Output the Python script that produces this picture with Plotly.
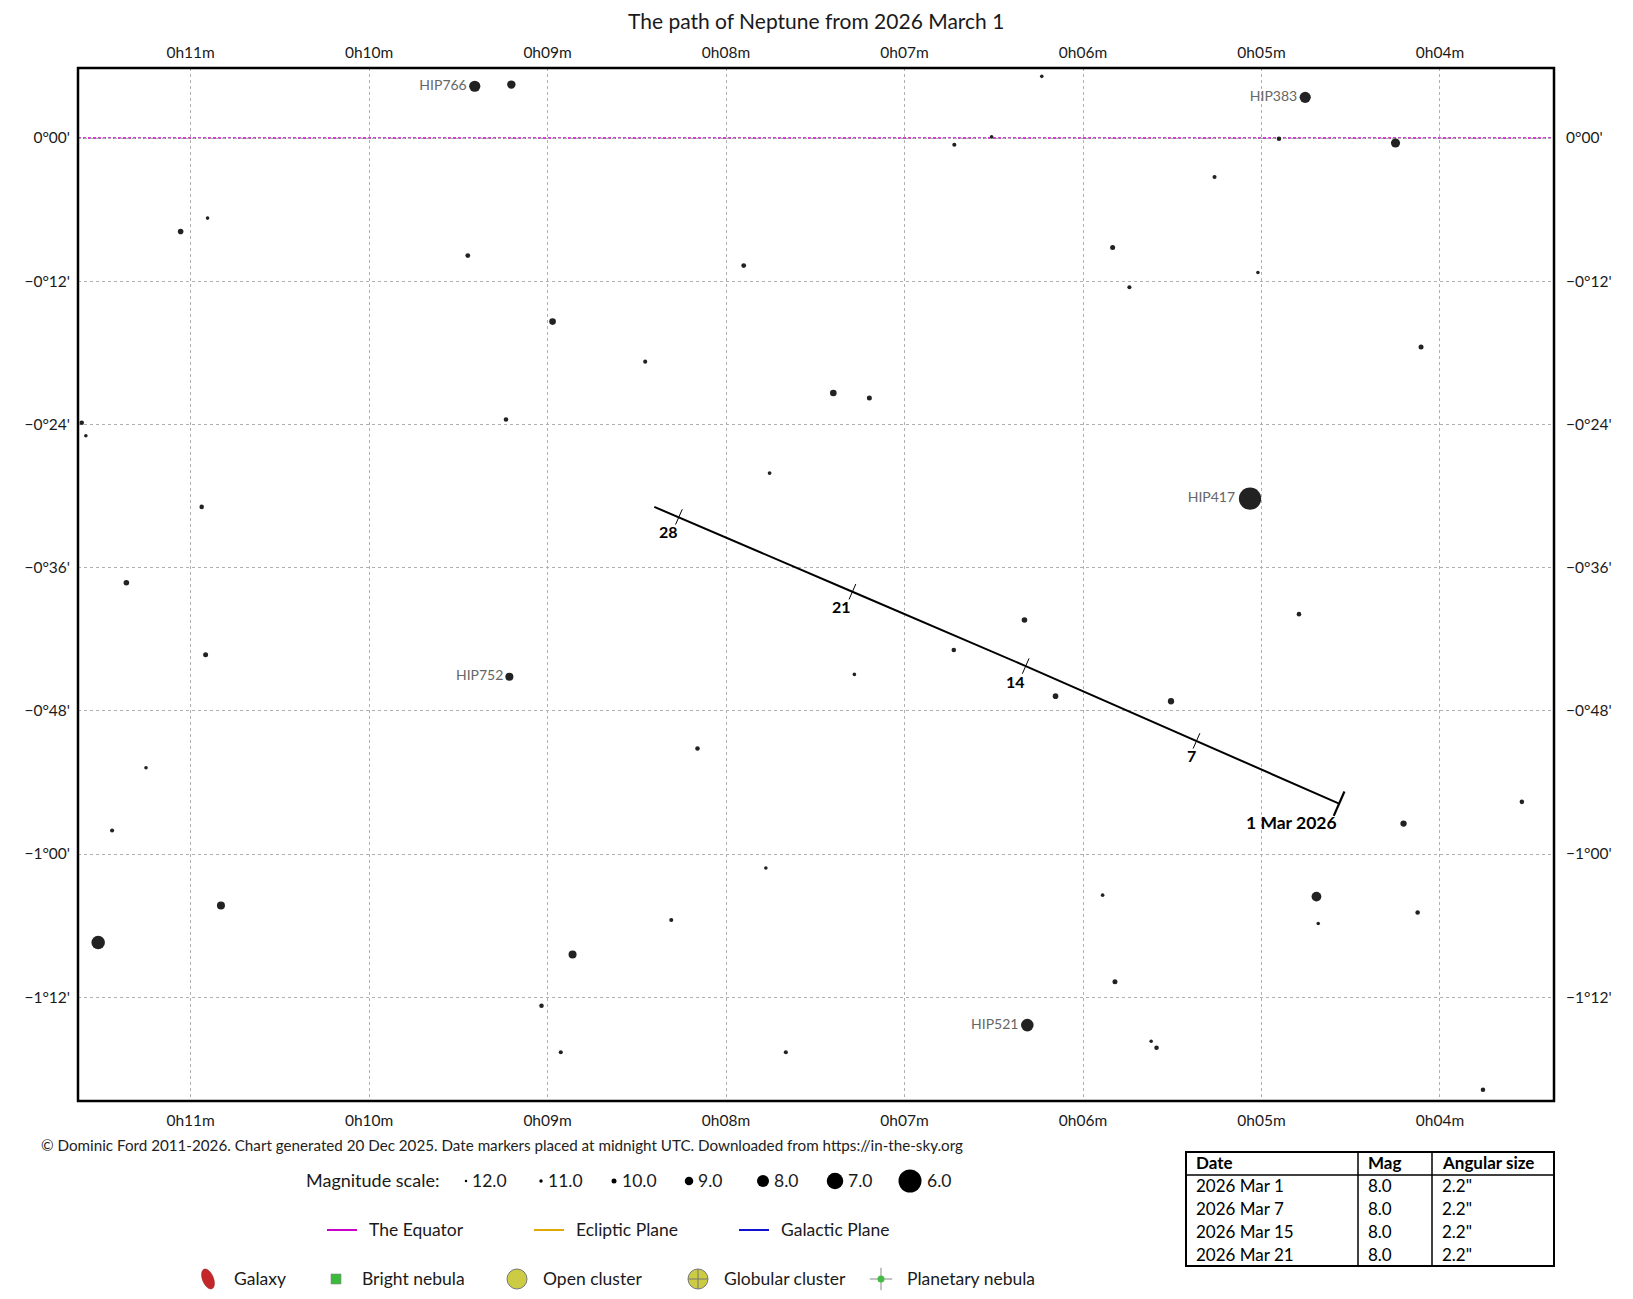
import numpy as np
import plotly.graph_objects as go

W, H = 1633, 1299
FONT = "Lato, sans-serif"
INK = "#1a1a1a"

# Right ascension in minutes past 0h, declination in arcminutes
RA_TICKS = [11, 10, 9, 8, 7, 6, 5, 4]
RA_TICK_TEXT = ["0h11m", "0h10m", "0h09m", "0h08m", "0h07m", "0h06m", "0h05m", "0h04m"]
DEC_TICKS = [0, -12, -24, -36, -48, -60, -72]
DEC_TICK_TEXT = ["0°00'", "−0°12'", "−0°24'", "−0°36'", "−0°48'", "−1°00'", "−1°12'"]
RA_RANGE = [11.631, 3.361]
DEC_RANGE = [-80.7, 5.87]

STAR_RA = [9.408, 9.203, 11.056, 10.905, 9.447, 11.610, 11.587, 9.233, 10.938,
           6.721, 6.512, 7.901, 8.972, 8.453, 7.399, 7.197, 7.756,
           6.231, 4.755, 4.902, 4.249, 5.263, 5.834, 5.740, 5.020, 4.106, 5.064,
           11.360, 10.916, 9.214, 11.250, 11.440, 10.830, 11.518, 9.034,
           6.328, 6.724, 7.281, 8.160, 7.777, 8.307, 8.860, 8.926, 7.665,
           4.790, 6.154, 5.507, 3.541, 4.204, 5.890, 4.692, 4.682, 4.125,
           5.821, 6.312, 5.618, 5.588, 3.759]
STAR_DEC = [4.34, 4.48, -7.83, -6.71, -9.85, -23.86, -24.95, -23.58, -30.91,
            -0.56, 0.11, -10.69, -15.38, -18.74, -21.37, -21.79, -28.08,
            5.17, 3.41, -0.06, -0.42, -3.27, -9.17, -12.50, -11.27, -17.51, -30.21,
            -37.27, -43.30, -45.15, -52.77, -58.03, -64.32, -67.41, -72.72,
            -40.39, -42.90, -44.95, -51.16, -61.17, -65.53, -68.42, -76.62, -76.62,
            -39.90, -46.77, -47.20, -55.63, -57.45, -63.45, -63.57, -65.82, -64.90,
            -70.70, -74.34, -75.69, -76.24, -79.76]
STAR_MAG = [8.4, 9.2, 10.0, 11.5, 10.5, 10.7, 11.5, 10.7, 10.7,
            11.0, 11.5, 10.5, 9.7, 11.0, 9.7, 10.4, 11.3,
            11.5, 8.4, 10.7, 9.0, 11.0, 10.4, 11.0, 11.5, 10.4, 6.2,
            10.0, 10.4, 9.3, 11.5, 11.0, 9.3, 7.8, 10.7,
            10.0, 10.7, 11.5, 10.7, 11.5, 11.0, 9.3, 11.0, 11.0,
            10.7, 10.0, 9.8, 10.7, 9.8, 11.5, 8.8, 11.5, 10.7,
            10.4, 8.0, 11.5, 10.7, 10.7]
STAR_NAME = ["HIP766"] + [""] * 17 + ["HIP383"] + [""] * 7 + ["HIP417"] + \
            [""] * 2 + ["HIP752"] + [""] * 24 + ["HIP521"] + [""] * 3

# Neptune, March 2026 (day of month)
PATH_DAY = [1, 7, 14, 21, 28, 29]
PATH_RA = [4.565, 5.364, 6.321, 7.292, 8.264, 8.402]
PATH_DEC = [-55.78, -50.52, -44.25, -38.02, -31.75, -30.91]
DATE_LABELS = ["1 Mar 2026", "7", "14", "21", "28"]

MAG_KEY = [12.0, 11.0, 10.0, 9.0, 8.0, 7.0, 6.0]
MAG_KEY_SIZE = [2.5, 3.5, 5.0, 8.5, 12.0, 16.5, 23.0]

TABLE_HEAD = ["Date", "Mag", "Angular size"]
TABLE_DATE = ["2026 Mar 1", "2026 Mar 7", "2026 Mar 15", "2026 Mar 21"]
TABLE_MAG = ["8.0", "8.0", "8.0", "8.0"]
TABLE_SIZE = ['2.2"', '2.2"', '2.2"', '2.2"']

LINE_KEYS = ["The Equator", "Ecliptic Plane", "Galactic Plane"]
LINE_KEY_COLORS = ["#c800c8", "#e0a800", "#1010d0"]
OBJECT_KEYS = ["Galaxy", "Bright nebula", "Open cluster", "Globular cluster", "Planetary nebula"]


def mag_size(m):
    return np.interp(m, MAG_KEY[::-1], MAG_KEY_SIZE[::-1])


fig = go.Figure()

# stars
fig.add_trace(go.Scatter(
    x=STAR_RA, y=STAR_DEC, mode="markers+text",
    marker=dict(size=mag_size(np.array(STAR_MAG)) + 0.6, color="#222222", opacity=1,
                line=dict(width=0)),
    text=STAR_NAME, textposition="middle left",
    textfont=dict(family=FONT, size=14, color="#666666"),
    cliponaxis=False, hoverinfo="skip",
))

# path of Neptune
fig.add_trace(go.Scatter(
    x=PATH_RA, y=PATH_DEC, mode="lines",
    line=dict(color="black", width=2), hoverinfo="skip",
))
tick_angle = 23.7
fig.add_trace(go.Scatter(
    x=PATH_RA[1:5], y=PATH_DEC[1:5], mode="markers",
    marker=dict(symbol="line-ns", size=12, angle=tick_angle,
                line=dict(width=1, color="black")),
    hoverinfo="skip",
))
fig.add_trace(go.Scatter(
    x=PATH_RA[:1], y=PATH_DEC[:1], mode="markers",
    marker=dict(symbol="line-ns", size=19, angle=tick_angle,
                line=dict(width=2.2, color="black")),
    hoverinfo="skip",
))
for i, lab in enumerate(DATE_LABELS):
    big = i == 0
    fig.add_annotation(
        x=PATH_RA[i], y=PATH_DEC[i], text=f"<b>{lab}</b>", showarrow=False,
        xanchor="right", yanchor="middle",
        xshift=0 if big else 1, yshift=-19 if big else -15,
        font=dict(family=FONT, size=17.5 if big else 16, color="black"),
    )

# top / right axis carriers
fig.add_trace(go.Scatter(x=RA_RANGE, y=DEC_RANGE, xaxis="x2", yaxis="y2",
                         mode="markers", marker=dict(opacity=0), hoverinfo="skip"))

# equator
fig.add_shape(type="line", xref="x domain", yref="y", x0=0, x1=1, y0=0, y1=0,
              line=dict(color=LINE_KEY_COLORS[0], width=1.6, dash="3px,2px"), layer="below")
# frame
fig.add_shape(type="rect", xref="x domain", yref="y domain", x0=0, x1=1, y0=0, y1=1,
              line=dict(color="black", width=2.5))

# ---------- key area (pixel coordinates on an auxiliary axis) ----------
PX = dict(xref="x3", yref="y3")

fig.add_annotation(x=816, y=20, text="The path of Neptune from 2026 March 1", showarrow=False,
                   font=dict(family=FONT, size=21, color=INK), **PX)
fig.add_annotation(
    x=39, y=1145, xanchor="left", showarrow=False,
    text="© Dominic Ford 2011-2026. Chart generated 20 Dec 2025. Date markers placed at "
         "midnight UTC. Downloaded from https://in-the-sky.org",
    font=dict(family=FONT, size=15.2, color="#222222"), **PX)

mag_x = [466, 541, 614, 689, 763, 835, 910]
fig.add_annotation(x=441, y=1180, xanchor="right", showarrow=False, text="Magnitude scale:",
                   font=dict(family=FONT, size=18, color=INK), **PX)
fig.add_trace(go.Scatter(
    x=mag_x, y=[1181] * len(MAG_KEY), xaxis="x3", yaxis="y3", mode="markers",
    marker=dict(size=MAG_KEY_SIZE, color="#000000", opacity=1, line=dict(width=0)),
    hoverinfo="skip",
))
for mx, m, s in zip(mag_x, MAG_KEY, MAG_KEY_SIZE):
    fig.add_annotation(x=mx + s / 2 + 3, y=1180, xanchor="left", showarrow=False,
                       text=f"{m:.1f}", font=dict(family=FONT, size=17.5, color=INK), **PX)

line_x = [327, 534, 739]
for lx, name, col in zip(line_x, LINE_KEYS, LINE_KEY_COLORS):
    fig.add_shape(type="line", x0=lx, x1=lx + 30, y0=1230, y1=1230,
                  line=dict(color=col, width=2), **PX)
    fig.add_annotation(x=lx + 40, y=1229, xanchor="left", showarrow=False, text=name,
                       font=dict(family=FONT, size=17.5, color=INK), **PX)

obj_x = [208, 336, 517, 698, 881]
t = np.linspace(0, 2 * np.pi, 40)
ex, ey = 5.5 * np.cos(t), 10.5 * np.sin(t)
rot = np.radians(-22)
gx = obj_x[0] + ex * np.cos(rot) - ey * np.sin(rot)
gy = 1279 + ex * np.sin(rot) + ey * np.cos(rot)
fig.add_shape(type="path", path="M " + " L ".join(f"{a:.2f},{b:.2f}" for a, b in zip(gx, gy)) + " Z",
              fillcolor="#c4262a", line=dict(color="#8a1a1a", width=0.5), **PX)
fig.add_trace(go.Scatter(x=[obj_x[1]], y=[1279], xaxis="x3", yaxis="y3", mode="markers",
                         marker=dict(symbol="square", size=10, color="#3cba3c",
                                     line=dict(color="#888888", width=0.6)), hoverinfo="skip"))
fig.add_trace(go.Scatter(x=[obj_x[2]], y=[1279], xaxis="x3", yaxis="y3", mode="markers",
                         marker=dict(symbol="circle", size=20, color="#cccc44",
                                     line=dict(color="#777777", width=1)), hoverinfo="skip"))
fig.add_trace(go.Scatter(x=[obj_x[3]], y=[1279], xaxis="x3", yaxis="y3", mode="markers",
                         marker=dict(symbol="circle-cross", size=20, color="#cccc44",
                                     line=dict(color="#777777", width=1)), hoverinfo="skip"))
fig.add_trace(go.Scatter(x=[obj_x[4]], y=[1279], xaxis="x3", yaxis="y3", mode="markers",
                         marker=dict(symbol="cross-thin", size=16,
                                     line=dict(color="#888888", width=1)), hoverinfo="skip"))
fig.add_trace(go.Scatter(x=[obj_x[4]], y=[1279], xaxis="x3", yaxis="y3", mode="markers",
                         marker=dict(symbol="circle", size=7, color="#44bb44",
                                     line=dict(width=0)), hoverinfo="skip"))
for ox, name in zip(obj_x, OBJECT_KEYS):
    fig.add_annotation(x=ox + 24, y=1278, xanchor="left", showarrow=False, text=name,
                       font=dict(family=FONT, size=17.5, color=INK), **PX)

# ephemeris table
tx0, tx1, ty0, ty1 = 1186, 1554, 1152, 1266
col_x = [1186, 1358, 1432]
fig.add_shape(type="rect", x0=tx0, x1=tx1, y0=ty0, y1=ty1, line=dict(color="black", width=2), **PX)
fig.add_shape(type="line", x0=tx0, x1=tx1, y0=1175, y1=1175, line=dict(color="black", width=1.5), **PX)
for cx in col_x[1:]:
    fig.add_shape(type="line", x0=cx, x1=cx, y0=ty0, y1=ty1, line=dict(color="black", width=1.5), **PX)
for cx, head in zip(col_x, TABLE_HEAD):
    fig.add_annotation(x=cx + 8, y=1162, xanchor="left", yanchor="middle", showarrow=False,
                       text=f"<b>{head}</b>", font=dict(family=FONT, size=17, color="black"), **PX)
for r, row in enumerate(zip(TABLE_DATE, TABLE_MAG, TABLE_SIZE)):
    for cx, val in zip(col_x, row):
        fig.add_annotation(x=cx + 8, y=1185 + 23 * r, xanchor="left", yanchor="middle",
                           showarrow=False, text=val,
                           font=dict(family=FONT, size=17, color="black"), **PX)

tickfont = dict(family=FONT, size=15.5, color=INK)
x_dom = [78 / W, 1554 / W]
y_dom = [1 - 1101 / H, 1 - 68 / H]
grid = dict(showgrid=True, gridcolor="#b0b0b0", gridwidth=1, griddash="3px,3px")

fig.update_layout(
    width=W, height=H, margin=dict(l=0, r=0, t=0, b=0),
    paper_bgcolor="white", plot_bgcolor="rgba(0,0,0,0)", showlegend=False,
    font=dict(family=FONT, color=INK),
    xaxis=dict(domain=x_dom, range=RA_RANGE, tickvals=RA_TICKS, ticktext=RA_TICK_TEXT,
               tickfont=tickfont, zeroline=False, showline=False, ticks="",
               ticklabelstandoff=8, automargin=False, fixedrange=True, **grid),
    xaxis2=dict(domain=x_dom, range=RA_RANGE, overlaying="x", side="top", anchor="y",
                tickvals=RA_TICKS, ticktext=RA_TICK_TEXT, tickfont=tickfont, showgrid=False,
                zeroline=False, ticks="", ticklabelstandoff=6, automargin=False, fixedrange=True),
    yaxis=dict(domain=y_dom, range=DEC_RANGE, tickvals=DEC_TICKS, ticktext=DEC_TICK_TEXT,
               tickfont=tickfont, zeroline=False, showline=False, ticks="",
               ticklabelstandoff=7, automargin=False, fixedrange=True, **grid),
    yaxis2=dict(domain=y_dom, range=DEC_RANGE, overlaying="y", side="right", anchor="x",
                tickvals=DEC_TICKS, ticktext=DEC_TICK_TEXT, tickfont=tickfont, showgrid=False,
                zeroline=False, ticks="", ticklabelstandoff=11, automargin=False, fixedrange=True),
    xaxis3=dict(domain=[0, 1], range=[0, W], visible=False, fixedrange=True, anchor="y3"),
    yaxis3=dict(domain=[0, 1], range=[H, 0], visible=False, fixedrange=True, anchor="x3"),
)

# drop the default page margin so the chart sits at the window origin
fig.write_html("out.html", config={"displayModeBar": False},
               post_script="document.body.style.margin='0px';")
